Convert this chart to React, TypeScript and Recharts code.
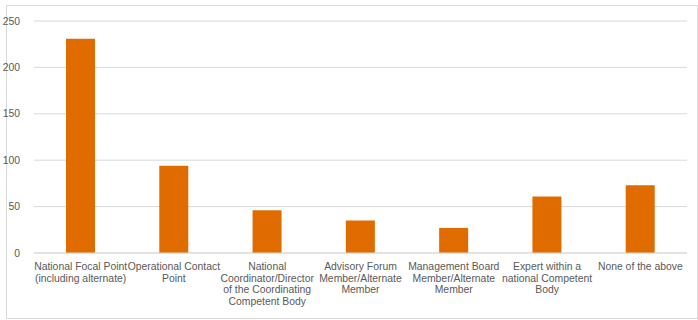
import { BarChart, Bar, XAxis, YAxis, CartesianGrid } from 'recharts';

const categories = [
  'National Focal Point\n(including alternate)',
  'Operational Contact\nPoint',
  'National\nCoordinator/Director\nof the Coordinating\nCompetent Body',
  'Advisory Forum\nMember/Alternate\nMember',
  'Management Board\nMember/Alternate\nMember',
  'Expert within a\nnational Competent\nBody',
  'None of the above',
];
const counts = [231, 94, 46, 35, 27, 61, 73];
const yTicks = [0, 50, 100, 150, 200, 250];

const TEXT = '#595959';
const FONT = '"Liberation Sans", Arial, sans-serif';

function CategoryTick({ x, y, payload }: any) {
  const lines = String(payload.value).split('\n');
  return (
    <text x={x} y={y} textAnchor="middle" fill={TEXT} fontSize={10.4} fontFamily={FONT}>
      {lines.map((line, i) => (
        <tspan key={i} x={x} dy={i === 0 ? 9 : 11.7}>
          {line}
        </tspan>
      ))}
    </text>
  );
}

export default function App() {
  const data = categories.map((c, i) => ({ name: c, value: counts[i] }));

  return (
    <div style={{ position: 'absolute', left: 0, top: 0, width: 698, height: 320, background: '#fff' }}>
      <div
        style={{
          position: 'absolute',
          left: 6,
          top: 5,
          width: 690,
          height: 312,
          border: '1px solid #d9d9d9',
        }}
      />
      <BarChart
        width={698}
        height={320}
        data={data}
        margin={{ top: 21, right: 11, bottom: 0, left: 0 }}
        barSize={29}
      >
        <CartesianGrid vertical={false} stroke="#d9d9d9" strokeWidth={1} />
        <XAxis
          dataKey="name"
          interval={0}
          axisLine={{ stroke: '#d9d9d9' }}
          tickLine={false}
          tick={<CategoryTick />}
          height={67}
        />
        <YAxis
          domain={[0, 250]}
          ticks={yTicks}
          width={34}
          axisLine={false}
          tickLine={false}
          tickMargin={8}
          tick={{ fill: TEXT, fontSize: 10.4, fontFamily: FONT }}
        />
        <Bar dataKey="value" fill="#E06C00" isAnimationActive={false} />
      </BarChart>
    </div>
  );
}
